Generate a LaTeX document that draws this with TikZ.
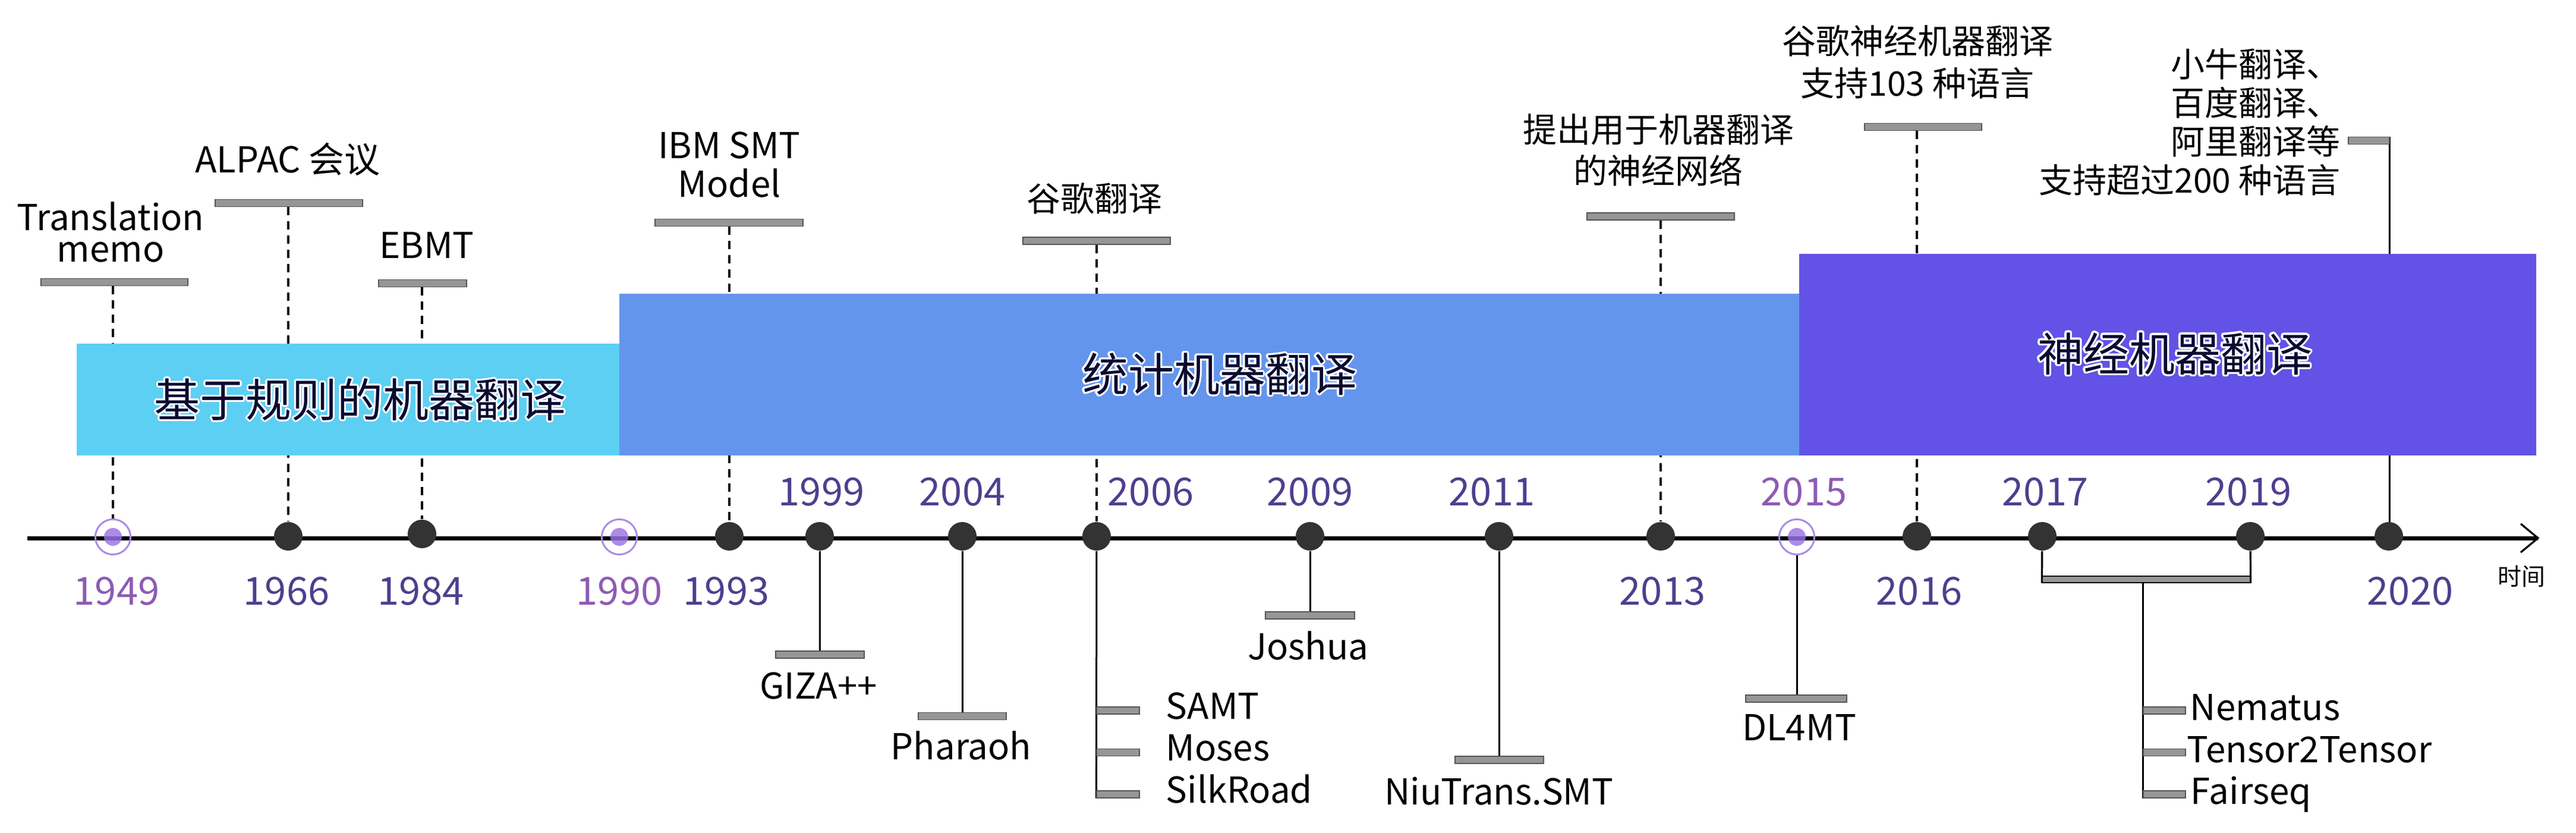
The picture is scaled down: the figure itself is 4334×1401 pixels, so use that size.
\documentclass[tikz,border=0pt]{standalone}
\usepackage{fontspec}
\setmainfont{Noto Sans CJK SC}
\usetikzlibrary{calc}
\definecolor{rulec}{HTML}{5DCFF3}
\definecolor{smtc}{HTML}{6495ED}
\definecolor{nmtc}{HTML}{6252E6}
\definecolor{yeard}{HTML}{4F3E8E}
\definecolor{yearl}{HTML}{8D5BB4}
\definecolor{ringc}{HTML}{A98BE8}
\definecolor{ringf}{RGB}{155,114,229}
\definecolor{dotc}{HTML}{333333}
\definecolor{barf}{HTML}{969696}
\definecolor{bard}{HTML}{555555}
\definecolor{titlec}{HTML}{0B0B30}
\newcommand\halotxt[1]{%
  \leavevmode\rlap{\color{white}%
    \foreach \ang in {0,22.5,...,337.5}{%
      \rlap{\hspace*{\fpeval{0.8*cosd(\ang)}pt}\raisebox{\fpeval{0.8*sind(\ang)}pt}{#1}}}}%
  {\color{titlec}#1}}
\pgfdeclarelayer{back}
\pgfdeclarelayer{mid}
\pgfsetlayers{back,mid,main}
\tikzset{
  dot/.style={circle,fill=dotc,inner sep=0pt,minimum size=12pt},
  ringo/.style={circle,draw=ringc,line width=0.75pt,inner sep=0pt,minimum size=14.75pt},
  ringi/.style={circle,fill=ringf,fill opacity=0.82,inner sep=0pt,minimum size=7.5pt},
  bar/.style={rectangle,fill=barf,draw=bard,line width=0.3pt,inner sep=0pt,minimum height=3pt},
  brkbar/.style={rectangle,fill=barf,draw=black,line width=0.3pt,inner sep=0pt,minimum height=2.75pt},
  dashc/.style={line width=0.85pt,dash pattern=on 3.5pt off 2.5pt},
  solidc/.style={line width=0.75pt},
  brk/.style={line width=0.8pt},
  lbl/.style={inner sep=0pt,anchor=base,font={\fontsize{15pt}{18pt}\selectfont}},
  cjk/.style={inner sep=0pt,font={\fontsize{14.25pt}{17pt}\selectfont}},
  yr/.style={inner sep=0pt,anchor=base,font={\fontsize{16.25pt}{19pt}\selectfont},text=yeard},
  yrl/.style={yr,text=yearl},
  era/.style={rectangle,inner sep=0pt},
  titletxt/.style={inner sep=0pt,font={\fontsize{19.25pt}{23pt}\selectfont}},
}
\begin{document}
\begin{tikzpicture}[x=0.25pt,y=-0.25pt]
\useasboundingbox (0,0) rectangle (4334,1401);

% ---- dots and rings
\node[ringo] (r1949) at (190,903) {};
\node[ringi] (r1949i) at (r1949) {};
\node[dot] (d1966) at (485,902) {};
\node[dot] (d1984) at (710,898) {};
\node[ringo] (r1990) at (1042,903) {};
\node[ringi] (r1990i) at (r1990) {};
\node[dot] (d1993) at (1227,902) {};
\node[dot] (d1999) at (1379,902) {};
\node[dot] (d2004) at (1619,902) {};
\node[dot] (d2006) at (1845,902) {};
\node[dot] (d2009) at (2204,902) {};
\node[dot] (d2011) at (2522,902) {};
\node[dot] (d2013) at (2794,902) {};
\node[ringo] (r2015) at (3023,903) {};
\node[ringi] (r2015i) at (r2015) {};
\node[dot] (d2016) at (3225,902) {};
\node[dot] (d2017) at (3436,902) {};
\node[dot] (d2019) at (3786,902) {};
\node[dot] (d2020) at (4019,902) {};

% ---- bars
\node[bar,minimum width=61.75pt] (bTM) at (192.5,474.5) {};
\node[bar,minimum width=62pt] (bAL) at (486,341.5) {};
\node[bar,minimum width=37pt] (bEB) at (711,476.5) {};
\node[bar,minimum width=62.25pt] (bIBM) at (1226.5,374.5) {};
\node[bar,minimum width=62pt] (bGG) at (1845,405) {};
\node[bar,minimum width=62pt] (bNN) at (2794,364) {};
\node[bar,minimum width=49.25pt] (bGN) at (3235.5,213.5) {};
\node[bar,minimum width=17.25pt] (bXN) at (3985.5,236.5) {};
\node[bar,minimum width=37.25pt] (bGZ) at (1379.5,1101) {};
\node[bar,minimum width=37pt] (bPH) at (1619,1204.5) {};
\node[bar,minimum width=37.5pt] (bJO) at (2204,1035) {};
\node[bar,minimum width=37.25pt] (bNT) at (2522.5,1278) {};
\node[bar,minimum width=42.5pt] (bDL) at (3022,1175) {};
\node[bar,minimum width=18pt] (bSA) at (1881,1195) {};
\node[bar,minimum width=18pt] (bMO) at (1881,1265.5) {};
\node[bar,minimum width=18pt] (bSR) at (1881,1336) {};
\node[brkbar,minimum width=87.5pt] (bBR) at (3611,974.5) {};
\node[bar,minimum width=17.75pt] (bNE) at (3641.5,1195) {};
\node[bar,minimum width=17.75pt] (bTT) at (3641.5,1265.5) {};
\node[bar,minimum width=17.75pt] (bFS) at (3641.5,1336) {};

% ---- connectors
\begin{pgfonlayer}{back}
\draw[dashc] (bTM.south -| r1949) -- (r1949.north);
\draw[dashc] (bAL.south -| d1966) -- (d1966);
\draw[dashc] (bEB.south -| d1984) -- (d1984);
\draw[dashc] (bIBM.south -| d1993) -- (d1993);
\draw[dashc] (bGG.south -| d2006) -- (d2006);
\draw[dashc] (bNN.south -| d2013) -- (d2013);
\draw[dashc] (bGN.south -| d2016) -- (d2016);
\draw[solidc] (bXN.north east) -- (bXN.north east |- d2020);
\draw[solidc] (d1999) -- (d1999 |- bGZ.north);
\draw[solidc] (d2004) -- (d2004 |- bPH.north);
\draw[solidc] (d2009) -- (d2009 |- bJO.north);
\draw[solidc] (d2011) -- (d2011 |- bNT.north);
\draw[solidc] (r2015) -- (r2015 |- bDL.north);
\draw[solidc] (d2006) -- (bSR.south west);
\draw[brk] (d2017) -- (bBR.south west);
\draw[brk] (d2019) -- (bBR.south east);
\draw[solidc] (bBR.south -| bFS.west) -- (bFS.south west);
\end{pgfonlayer}

% ---- era boxes and axis
\begin{pgfonlayer}{mid}
\node[era,fill=rulec,minimum width=228.25pt,minimum height=47pt] (erule) at (585.5,672) {};
\node[era,fill=smtc,minimum width=496.25pt,minimum height=68pt] (esmt) at (2034.5,630) {};
\node[era,fill=nmtc,minimum width=310pt,minimum height=84.75pt] (enmt) at (3647,596.5) {};
\coordinate (axs) at (46,905);
\coordinate (axe) at (4270,905);
\draw[line width=1.75pt] (axs) -- (axe);
\draw[line width=0.8pt] ($(axe)+(-29,-24)$) -- (axe) -- ($(axe)+(-29,24)$);
\end{pgfonlayer}

% ---- era titles
\node[titletxt] (trule) at (606,672) {\halotxt{基于规则的机器翻译}};
\node[titletxt] (tsmt) at (2052,629) {\halotxt{统计机器翻译}};
\node[titletxt] (tnmt) at (3659,595) {\halotxt{神经机器翻译}};

% ---- upper annotations
\node[inner sep=0pt,align=center,font={\fontsize{15pt}{13.25pt}\selectfont}] (tTM) at (186,391) {Translation\\memo};
\node[lbl] (tAL) at (484,291) {ALPAC 会议};
\node[lbl] (tEB) at (718,434) {EBMT};
\node[inner sep=0pt,align=center,font={\fontsize{15pt}{16.25pt}\selectfont}] (tIBM) at (1227,277.5) {IBM SMT\\Model};
\node[cjk] (tGG) at (1841,334) {谷歌翻译};
\node[inner sep=0pt,align=center,font={\fontsize{14.25pt}{17.25pt}\selectfont}] (tNN) at (2790,252.5) {提出用于机器翻译\\的神经网络};
\node[inner sep=0pt,align=center,font={\fontsize{14.25pt}{17.75pt}\selectfont}] (tGN) at (3226,104.5) {谷歌神经机器翻译\\支持103 种语言};
\node[inner sep=0pt,align=right,anchor=east,font={\fontsize{14.25pt}{16.2pt}\selectfont}] (tXN) at (3938,205.5) {小牛翻译、\\百度翻译、\\阿里翻译等\\支持超过200 种语言};

% ---- lower annotations
\node[lbl] (tGZ) at (1377,1175) {GIZA++};
\node[lbl] (tPH) at (1617,1277) {Pharaoh};
\node[lbl,anchor=base west] (tSA) at (1961,1209) {SAMT};
\node[lbl,anchor=base west] (tMO) at (1961,1279) {Moses};
\node[lbl,anchor=base west] (tSR) at (1961,1350) {SilkRoad};
\node[lbl] (tJO) at (2201,1109) {Joshua};
\node[lbl] (tNT) at (2522,1353) {NiuTrans.SMT};
\node[lbl] (tDL) at (3027,1245) {DL4MT};
\node[lbl,anchor=base west] (tNE) at (3684,1211) {Nematus};
\node[lbl,anchor=base west] (tTT) at (3679,1282) {Tensor2Tensor};
\node[lbl,anchor=base west] (tFS) at (3685,1352) {Fairseq};
\node[inner sep=0pt,font={\fontsize{10pt}{12pt}\selectfont}] (ttime) at (4242,969) {时间};

% ---- year labels
\node[yr] (y1999) at (1382,850) {1999};
\node[yr] (y2004) at (1619,850) {2004};
\node[yr] (y2006) at (1936,850) {2006};
\node[yr] (y2009) at (2204,850) {2009};
\node[yr] (y2011) at (2510,850) {2011};
\node[yrl] (y2015) at (3035,850) {2015};
\node[yr] (y2017) at (3441,850) {2017};
\node[yr] (y2019) at (3783,850) {2019};
\node[yrl] (y1949) at (196,1017) {1949};
\node[yr] (y1966) at (482,1017) {1966};
\node[yr] (y1984) at (708,1017) {1984};
\node[yrl] (y1990) at (1042,1017) {1990};
\node[yr] (y1993) at (1222,1017) {1993};
\node[yr] (y2013) at (2797,1017) {2013};
\node[yr] (y2016) at (3229,1017) {2016};
\node[yr] (y2020) at (4055,1017) {2020};
\end{tikzpicture}
\end{document}
